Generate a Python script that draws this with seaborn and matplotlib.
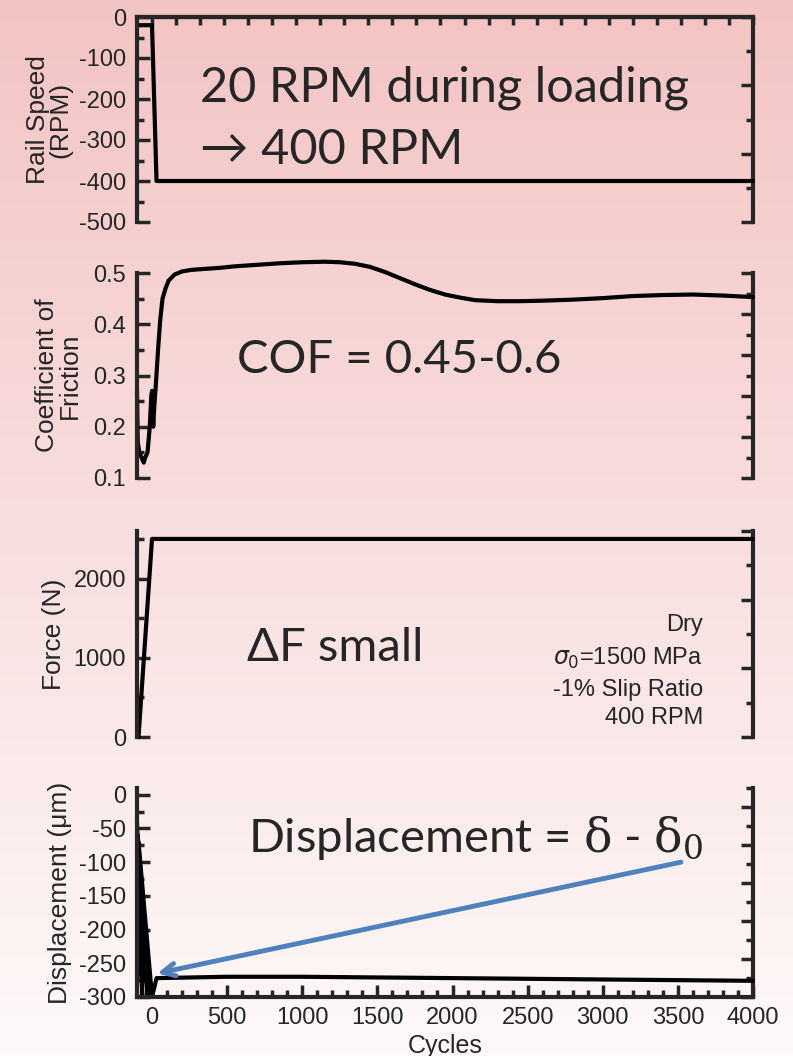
import matplotlib
matplotlib.use('Agg')
import matplotlib.pyplot as plt
import seaborn as sns
import numpy as np
from matplotlib.ticker import MultipleLocator

# data
speed_x = [-100, 0, 30, 4000]
speed_y = [-20, -20, -400, -400]

cof_x = [-100, -95, -85, -70, -55, -45, -30, -15, -5, 0, 8, 15, 25, 40, 55, 70, 90,
         110, 150, 200, 260, 350, 450, 550, 700, 850, 1000, 1150, 1250, 1350, 1450,
         1550, 1650, 1750, 1850, 1950, 2050, 2150, 2300, 2450, 2600, 2800, 3000,
         3200, 3400, 3600, 3800, 4000]
cof_y = [0.27, 0.17, 0.15, 0.14, 0.13, 0.14, 0.15, 0.20, 0.26, 0.27, 0.20, 0.24, 0.28,
         0.35, 0.41, 0.45, 0.47, 0.485, 0.497, 0.503, 0.506, 0.508, 0.510, 0.513,
         0.516, 0.519, 0.521, 0.522, 0.521, 0.518, 0.512, 0.502, 0.49, 0.478, 0.467,
         0.458, 0.452, 0.447, 0.445, 0.445, 0.446, 0.448, 0.451, 0.455, 0.457, 0.458,
         0.456, 0.453]

force_x = [-90, 0, 4000]
force_y = [0, 2500, 2500]

disp_x = [-100, -65, -95, -30, -90, 0, 30, 500, 1000, 1500, 2000, 2500, 3000, 3500, 4000]
disp_y = [-40, -300, -60, -300, -70, -300, -272, -270, -270, -271, -272, -273, -274,
          -275, -276]

arrow_tail = (3520, -100)
arrow_head = (35, -265)

sns.set_style('ticks')
plt.rcParams['font.family'] = ['Liberation Sans', 'DejaVu Sans']
plt.rcParams['axes.unicode_minus'] = False

W, H = 793, 1056
fig = plt.figure(figsize=(W / 100, H / 100), dpi=100)

# pink to white background
bg = fig.add_axes([0, 0, 1, 1], zorder=-10)
top_c = np.array([243, 196, 196]) / 255
bot_c = np.array([254, 249, 249]) / 255
t = np.linspace(0, 1, 256)[:, None]
grad = top_c[None, :] * (1 - t) + bot_c[None, :] * t
bg.imshow(grad[:, None, :], aspect='auto', extent=[0, 1, 0, 1])
bg.axis('off')

left = 137 / W
width = (753 - 137) / W


def panel(top_px, bot_px):
    ax = fig.add_axes([left, 1 - bot_px / H, width, (bot_px - top_px) / H])
    ax.patch.set_alpha(0)
    return ax


ax1 = panel(17, 222)
ax2 = panel(273, 478)
ax3 = panel(531, 737)
ax4 = panel(788, 997)

lw = 3
for ax, x, y in [(ax1, speed_x, speed_y), (ax2, cof_x, cof_y),
                 (ax3, force_x, force_y), (ax4, disp_x, disp_y)]:
    sns.lineplot(x=x, y=y, ax=ax, color='black', lw=lw, sort=False,
                 estimator=None, clip_on=False)
    ax.set_xlim(-100, 4000)
    for s in ax.spines.values():
        s.set_linewidth(3)
    ax.spines['right'].set_visible(False)
    ax.spines['top'].set_visible(False)
    ax.spines['bottom'].set_visible(False)
    ax.tick_params(axis='y', which='major', direction='in', length=9, width=2.5,
                   labelsize=17, pad=8)
    ax.tick_params(axis='y', which='minor', direction='in', length=5, width=2.5)
    ax.tick_params(axis='x', which='both', bottom=False, labelbottom=False)

# limits and ticks
ax1.set_ylim(-500, 0)
ax1.yaxis.set_major_locator(MultipleLocator(100))
ax1.yaxis.set_minor_locator(MultipleLocator(50))
ax2.set_ylim(0.1, 0.5)
ax2.yaxis.set_major_locator(MultipleLocator(0.1))
ax2.yaxis.set_minor_locator(MultipleLocator(0.05))
ax3.set_ylim(0, 2600)
ax3.set_yticks([0, 1000, 2000])
ax3.yaxis.set_minor_locator(MultipleLocator(500))
ax4.set_ylim(-300, 10)
ax4.set_yticks([0, -50, -100, -150, -200, -250, -300])
ax4.yaxis.set_minor_locator(MultipleLocator(25))

# right-hand axes (own tick spacing, no labels)
right_ticks = [(ax1, -500, 0, 6), (ax2, 0.1, 0.5, 10), (ax3, 0, 2600, 6), (ax4, -300, 10, 11)]
for ax, lo, hi, n in right_ticks:
    sec = ax.secondary_yaxis('right')
    ticks = np.linspace(lo, hi, n + 1)
    sec.set_yticks(ticks[::2])
    sec.set_yticks(ticks[1::2], minor=True)
    sec.tick_params(which='major', direction='in', length=9, width=2.5, labelright=False)
    sec.tick_params(which='minor', direction='in', length=5, width=2.5)
    sec.spines['right'].set_linewidth(3)

# top axis of first panel
ax1.spines['top'].set_visible(True)
sec_top = ax1.secondary_xaxis('top')
sec_top.set_xticks(np.arange(0, 4001, 160))
sec_top.tick_params(direction='in', length=6, width=2.5, labeltop=False)
sec_top.spines['top'].set_linewidth(3)

# bottom axis of last panel
ax4.spines['bottom'].set_visible(True)
ax4.xaxis.set_major_locator(MultipleLocator(500))
ax4.xaxis.set_minor_locator(MultipleLocator(100))
ax4.tick_params(axis='x', which='major', bottom=True, labelbottom=True, direction='in',
                length=9, width=2.5, labelsize=17, pad=7)
ax4.tick_params(axis='x', which='minor', bottom=True, direction='in', length=5, width=2.5)
fig.text((137 + 753) / 2 / W, 1 - 1046 / H, 'Cycles', fontsize=18,
         ha='center', va='center')

# y labels (x = right edge of the rotated label, axes coords)
labels = [(ax1, 'Rail Speed\n(RPM)', -0.105), (ax2, 'Coefficient of\nFriction', -0.09),
          (ax3, 'Force (N)', -0.115), (ax4, 'Displacement (\u03bcm)', -0.105)]
for ax, lab, xc in labels:
    ax.set_ylabel(lab, fontsize=19, linespacing=0.9)
    ax.yaxis.set_label_coords(xc, 0.5)

# big annotations
big = dict(fontsize=34, family=['Lato', 'DejaVu Sans'], va='center', ha='left')
ax1.text(0.102, 0.654, '20 RPM during loading', transform=ax1.transAxes,
         **{**big, 'fontsize': 35})
ax1.text(0.102, 0.351, '\u2192 400 RPM', transform=ax1.transAxes,
         **{**big, 'fontsize': 35})
ax2.text(0.162, 0.576, 'COF = 0.45-0.6', transform=ax2.transAxes, **big)
ax3.text(0.179, 0.432, '\u0394F small', transform=ax3.transAxes, **big)
ax4.text(0.180, 0.76, r'Displacement = $\mathrm{\delta}$ - $\mathrm{\delta_0}$',
         transform=ax4.transAxes, math_fontfamily='dejavuserif', **big)

cond = ['Dry', r'$\sigma_0$=1500 MPa', '-1% Slip Ratio', '400 RPM']
cond_y = [0.544, 0.383, 0.228, 0.092]
for s, yy in zip(cond, cond_y):
    ax3.text(0.919, yy, s, transform=ax3.transAxes, ha='right', va='center',
             fontsize=17)

ax4.annotate('', xy=arrow_head, xytext=arrow_tail,
             arrowprops=dict(arrowstyle='->,head_length=0.9,head_width=0.45',
                             color='#4F81BD', lw=3.5, shrinkA=0, shrinkB=0))

fig.savefig('out.png', dpi=100)
